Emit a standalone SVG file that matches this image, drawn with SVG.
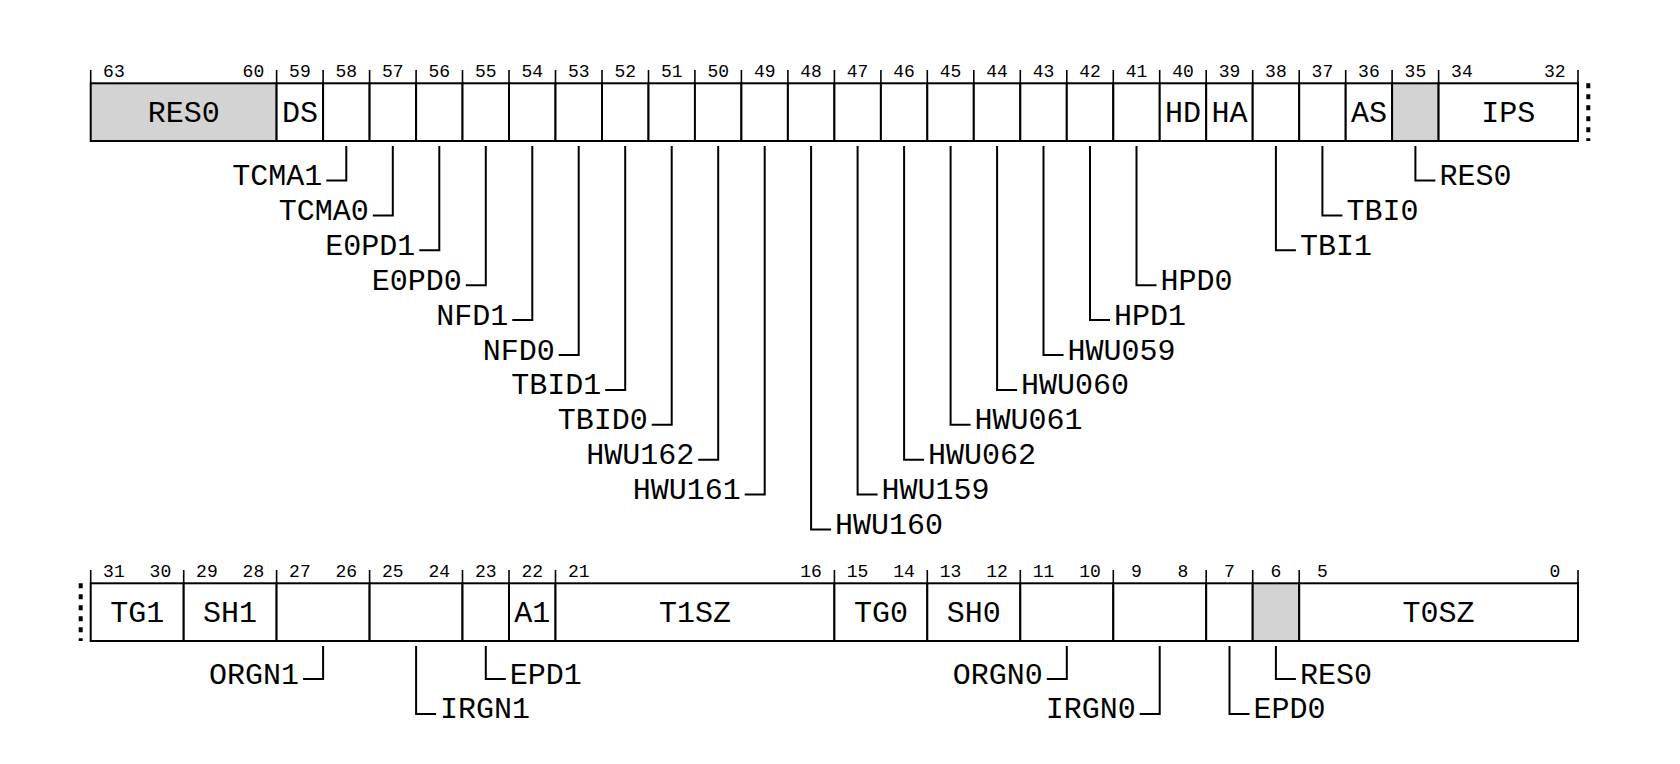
<svg xmlns="http://www.w3.org/2000/svg" width="1680" height="764" viewBox="0 0 1680 764">
<style>
.box{fill:#ffffff;stroke:#000;stroke-width:2}
.res{fill:#d3d3d3;stroke:#000;stroke-width:2}
.tick{stroke:#000;stroke-width:1.6;fill:none}
.lead{stroke:#000;stroke-width:2;fill:none}
.dots{stroke:#000;stroke-width:4;stroke-dasharray:5 6;fill:none}
.num{font-family:"Liberation Mono","DejaVu Sans Mono",monospace;font-size:18px;text-anchor:middle;fill:#000}
.lab,.ll,.lr{font-family:"Courier New",Courier,"Nimbus Mono PS","Nimbus Mono L",FreeMono,"Liberation Mono",monospace;font-size:30px;fill:#000}
.lab{text-anchor:middle}
.ll{text-anchor:end}
.lr{text-anchor:start}
</style>
<rect width="1680" height="764" fill="#ffffff"/>
<!-- Top register row: bits 63..32 -->
<g id="row-top">
<g id="f63-60"><rect class="res" x="90.7" y="83.3" width="185.9" height="57.7"/><text class="lab" x="183.7" y="122.3">RES0</text></g>
<g id="f59"><rect class="box" x="276.6" y="83.3" width="46.5" height="57.7"/><text class="lab" x="299.9" y="122.3">DS</text></g>
<g id="f58"><rect class="box" x="323.1" y="83.3" width="46.5" height="57.7"/></g>
<g id="f57"><rect class="box" x="369.6" y="83.3" width="46.5" height="57.7"/></g>
<g id="f56"><rect class="box" x="416.1" y="83.3" width="46.5" height="57.7"/></g>
<g id="f55"><rect class="box" x="462.5" y="83.3" width="46.5" height="57.7"/></g>
<g id="f54"><rect class="box" x="509.0" y="83.3" width="46.5" height="57.7"/></g>
<g id="f53"><rect class="box" x="555.5" y="83.3" width="46.5" height="57.7"/></g>
<g id="f52"><rect class="box" x="602.0" y="83.3" width="46.5" height="57.7"/></g>
<g id="f51"><rect class="box" x="648.5" y="83.3" width="46.5" height="57.7"/></g>
<g id="f50"><rect class="box" x="694.9" y="83.3" width="46.5" height="57.7"/></g>
<g id="f49"><rect class="box" x="741.4" y="83.3" width="46.5" height="57.7"/></g>
<g id="f48"><rect class="box" x="787.9" y="83.3" width="46.5" height="57.7"/></g>
<g id="f47"><rect class="box" x="834.4" y="83.3" width="46.5" height="57.7"/></g>
<g id="f46"><rect class="box" x="880.9" y="83.3" width="46.5" height="57.7"/></g>
<g id="f45"><rect class="box" x="927.3" y="83.3" width="46.5" height="57.7"/></g>
<g id="f44"><rect class="box" x="973.8" y="83.3" width="46.5" height="57.7"/></g>
<g id="f43"><rect class="box" x="1020.3" y="83.3" width="46.5" height="57.7"/></g>
<g id="f42"><rect class="box" x="1066.8" y="83.3" width="46.5" height="57.7"/></g>
<g id="f41"><rect class="box" x="1113.3" y="83.3" width="46.5" height="57.7"/></g>
<g id="f40"><rect class="box" x="1159.7" y="83.3" width="46.5" height="57.7"/><text class="lab" x="1183.0" y="122.3">HD</text></g>
<g id="f39"><rect class="box" x="1206.2" y="83.3" width="46.5" height="57.7"/><text class="lab" x="1229.5" y="122.3">HA</text></g>
<g id="f38"><rect class="box" x="1252.7" y="83.3" width="46.5" height="57.7"/></g>
<g id="f37"><rect class="box" x="1299.2" y="83.3" width="46.5" height="57.7"/></g>
<g id="f36"><rect class="box" x="1345.7" y="83.3" width="46.5" height="57.7"/><text class="lab" x="1368.9" y="122.3">AS</text></g>
<g id="f35"><rect class="res" x="1392.1" y="83.3" width="46.5" height="57.7"/></g>
<g id="f34-32"><rect class="box" x="1438.6" y="83.3" width="139.4" height="57.7"/><text class="lab" x="1508.3" y="122.3">IPS</text></g>
</g>
<g id="bits-top">
<text class="num" x="113.9" y="76.5">63</text><text class="num" x="253.4" y="76.5">60</text>
<text class="num" x="299.9" y="76.5">59</text><text class="num" x="346.3" y="76.5">58</text>
<text class="num" x="392.8" y="76.5">57</text><text class="num" x="439.3" y="76.5">56</text>
<text class="num" x="485.8" y="76.5">55</text><text class="num" x="532.3" y="76.5">54</text>
<text class="num" x="578.7" y="76.5">53</text><text class="num" x="625.2" y="76.5">52</text>
<text class="num" x="671.7" y="76.5">51</text><text class="num" x="718.2" y="76.5">50</text>
<text class="num" x="764.7" y="76.5">49</text><text class="num" x="811.1" y="76.5">48</text>
<text class="num" x="857.6" y="76.5">47</text><text class="num" x="904.1" y="76.5">46</text>
<text class="num" x="950.6" y="76.5">45</text><text class="num" x="997.1" y="76.5">44</text>
<text class="num" x="1043.5" y="76.5">43</text><text class="num" x="1090.0" y="76.5">42</text>
<text class="num" x="1136.5" y="76.5">41</text><text class="num" x="1183.0" y="76.5">40</text>
<text class="num" x="1229.5" y="76.5">39</text><text class="num" x="1275.9" y="76.5">38</text>
<text class="num" x="1322.4" y="76.5">37</text><text class="num" x="1368.9" y="76.5">36</text>
<text class="num" x="1415.4" y="76.5">35</text><text class="num" x="1461.9" y="76.5">34</text>
<text class="num" x="1554.8" y="76.5">32</text>
<path class="tick" d="M90.7 70v13.3M276.6 70v13.3M323.1 70v13.3M369.6 70v13.3M416.1 70v13.3M462.5 70v13.3M509.0 70v13.3M555.5 70v13.3M602.0 70v13.3M648.5 70v13.3M694.9 70v13.3M741.4 70v13.3M787.9 70v13.3M834.4 70v13.3M880.9 70v13.3M927.3 70v13.3M973.8 70v13.3M1020.3 70v13.3M1066.8 70v13.3M1113.3 70v13.3M1159.7 70v13.3M1206.2 70v13.3M1252.7 70v13.3M1299.2 70v13.3M1345.7 70v13.3M1392.1 70v13.3M1438.6 70v13.3M1578.0 70v13.3"/>
<path class="dots" d="M1588.3 83.3V141"/>
</g>
<!-- Bottom register row: bits 31..0 -->
<g id="row-bottom">
<g id="f31-30"><rect class="box" x="90.7" y="583.3" width="93.0" height="57.7"/><text class="lab" x="137.2" y="622.3">TG1</text></g>
<g id="f29-28"><rect class="box" x="183.7" y="583.3" width="92.9" height="57.7"/><text class="lab" x="230.1" y="622.3">SH1</text></g>
<g id="f27-26"><rect class="box" x="276.6" y="583.3" width="93.0" height="57.7"/></g>
<g id="f25-24"><rect class="box" x="369.6" y="583.3" width="92.9" height="57.7"/></g>
<g id="f23"><rect class="box" x="462.5" y="583.3" width="46.5" height="57.7"/></g>
<g id="f22"><rect class="box" x="509.0" y="583.3" width="46.5" height="57.7"/><text class="lab" x="532.3" y="622.3">A1</text></g>
<g id="f21-16"><rect class="box" x="555.5" y="583.3" width="278.9" height="57.7"/><text class="lab" x="694.9" y="622.3">T1SZ</text></g>
<g id="f15-14"><rect class="box" x="834.4" y="583.3" width="92.9" height="57.7"/><text class="lab" x="880.9" y="622.3">TG0</text></g>
<g id="f13-12"><rect class="box" x="927.3" y="583.3" width="93.0" height="57.7"/><text class="lab" x="973.8" y="622.3">SH0</text></g>
<g id="f11-10"><rect class="box" x="1020.3" y="583.3" width="93.0" height="57.7"/></g>
<g id="f9-8"><rect class="box" x="1113.3" y="583.3" width="92.9" height="57.7"/></g>
<g id="f7"><rect class="box" x="1206.2" y="583.3" width="46.5" height="57.7"/></g>
<g id="f6"><rect class="res" x="1252.7" y="583.3" width="46.5" height="57.7"/></g>
<g id="f5-0"><rect class="box" x="1299.2" y="583.3" width="278.8" height="57.7"/><text class="lab" x="1438.6" y="622.3">T0SZ</text></g>
</g>
<g id="bits-bottom">
<text class="num" x="113.9" y="576.5">31</text><text class="num" x="160.4" y="576.5">30</text>
<text class="num" x="206.9" y="576.5">29</text><text class="num" x="253.4" y="576.5">28</text>
<text class="num" x="299.9" y="576.5">27</text><text class="num" x="346.3" y="576.5">26</text>
<text class="num" x="392.8" y="576.5">25</text><text class="num" x="439.3" y="576.5">24</text>
<text class="num" x="485.8" y="576.5">23</text><text class="num" x="532.3" y="576.5">22</text>
<text class="num" x="578.7" y="576.5">21</text><text class="num" x="811.1" y="576.5">16</text>
<text class="num" x="857.6" y="576.5">15</text><text class="num" x="904.1" y="576.5">14</text>
<text class="num" x="950.6" y="576.5">13</text><text class="num" x="997.1" y="576.5">12</text>
<text class="num" x="1043.5" y="576.5">11</text><text class="num" x="1090.0" y="576.5">10</text>
<text class="num" x="1136.5" y="576.5">9</text><text class="num" x="1183.0" y="576.5">8</text>
<text class="num" x="1229.5" y="576.5">7</text><text class="num" x="1275.9" y="576.5">6</text>
<text class="num" x="1322.4" y="576.5">5</text><text class="num" x="1554.8" y="576.5">0</text>
<path class="tick" d="M90.7 570v13.3M183.7 570v13.3M276.6 570v13.3M369.6 570v13.3M462.5 570v13.3M509.0 570v13.3M555.5 570v13.3M834.4 570v13.3M927.3 570v13.3M1020.3 570v13.3M1113.3 570v13.3M1206.2 570v13.3M1252.7 570v13.3M1299.2 570v13.3M1578.0 570v13.3"/>
<path class="dots" d="M80.7 583.3V641"/>
</g>
<!-- Connectors (leader lines) -->
<g id="connectors">
<path class="lead" d="M346.3 146V180.5H326.3"/>
<path class="lead" d="M392.8 146V215.4H372.8"/>
<path class="lead" d="M439.3 146V250.3H419.3"/>
<path class="lead" d="M485.8 146V285.2H465.8"/>
<path class="lead" d="M532.3 146V320.1H512.3"/>
<path class="lead" d="M578.7 146V355H558.7"/>
<path class="lead" d="M625.2 146V389.9H605.2"/>
<path class="lead" d="M671.7 146V424.8H651.7"/>
<path class="lead" d="M718.2 146V459.7H698.2"/>
<path class="lead" d="M764.7 146V494.6H744.7"/>
<path class="lead" d="M811.1 146V529.5H831.1"/>
<path class="lead" d="M857.6 146V494.6H877.6"/>
<path class="lead" d="M904.1 146V459.7H924.1"/>
<path class="lead" d="M950.6 146V424.8H970.6"/>
<path class="lead" d="M997.1 146V389.9H1017.1"/>
<path class="lead" d="M1043.5 146V355H1063.5"/>
<path class="lead" d="M1090.0 146V320.1H1110.0"/>
<path class="lead" d="M1136.5 146V285.2H1156.5"/>
<path class="lead" d="M1275.9 146V250.3H1295.9"/>
<path class="lead" d="M1322.4 146V215.4H1342.4"/>
<path class="lead" d="M1415.4 146V180.5H1435.4"/>
<path class="lead" d="M323.1 646V679H303.1"/>
<path class="lead" d="M416.1 646V713.9H436.1"/>
<path class="lead" d="M485.8 646V679H505.8"/>
<path class="lead" d="M1066.8 646V679H1046.8"/>
<path class="lead" d="M1159.7 646V713.9H1139.7"/>
<path class="lead" d="M1229.5 646V713.9H1249.5"/>
<path class="lead" d="M1275.9 646V679H1295.9"/>
</g>
<g id="leader-labels">
<text class="ll" x="322.3" y="185">TCMA1</text>
<text class="ll" x="368.8" y="219.9">TCMA0</text>
<text class="ll" x="415.3" y="254.8">E0PD1</text>
<text class="ll" x="461.8" y="289.7">E0PD0</text>
<text class="ll" x="508.3" y="324.6">NFD1</text>
<text class="ll" x="554.7" y="359.5">NFD0</text>
<text class="ll" x="601.2" y="394.4">TBID1</text>
<text class="ll" x="647.7" y="429.3">TBID0</text>
<text class="ll" x="694.2" y="464.2">HWU162</text>
<text class="ll" x="740.7" y="499.1">HWU161</text>
<text class="lr" x="835.1" y="534">HWU160</text>
<text class="lr" x="881.6" y="499.1">HWU159</text>
<text class="lr" x="928.1" y="464.2">HWU062</text>
<text class="lr" x="974.6" y="429.3">HWU061</text>
<text class="lr" x="1021.1" y="394.4">HWU060</text>
<text class="lr" x="1067.5" y="359.5">HWU059</text>
<text class="lr" x="1114.0" y="324.6">HPD1</text>
<text class="lr" x="1160.5" y="289.7">HPD0</text>
<text class="lr" x="1299.9" y="254.8">TBI1</text>
<text class="lr" x="1346.4" y="219.9">TBI0</text>
<text class="lr" x="1439.4" y="185">RES0</text>
<text class="ll" x="299.1" y="683.5">ORGN1</text>
<text class="lr" x="440.1" y="718.4">IRGN1</text>
<text class="lr" x="509.8" y="683.5">EPD1</text>
<text class="ll" x="1042.8" y="683.5">ORGN0</text>
<text class="ll" x="1135.7" y="718.4">IRGN0</text>
<text class="lr" x="1253.5" y="718.4">EPD0</text>
<text class="lr" x="1299.9" y="683.5">RES0</text>
</g>
</svg>
